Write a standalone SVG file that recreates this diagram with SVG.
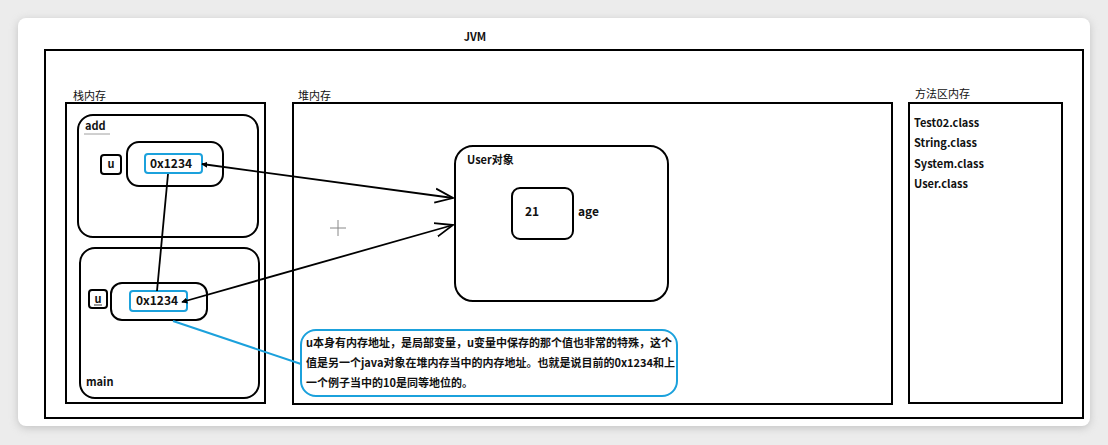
<svg xmlns="http://www.w3.org/2000/svg" width="1108" height="445" viewBox="0 0 1108 445">
<style>
.bx{fill:none;stroke:#000;stroke-width:2}
.bl{fill:none;stroke:#1ba1dc;stroke-width:2}
.t{font-family:"Noto Sans CJK SC","Liberation Sans",sans-serif;font-weight:bold;font-size:11px;fill:#111}
.v{font-size:12px}
.tn{font-family:"Noto Sans CJK SC",sans-serif;font-size:11px;fill:#111}
.ln{fill:none;stroke:#000;stroke-width:1.8}
</style>
<defs>
<filter id="sh" x="-5%" y="-5%" width="110%" height="110%"><feGaussianBlur stdDeviation="4"/></filter>
<marker id="open" viewBox="0 0 20 20" refX="18" refY="10" markerWidth="20" markerHeight="20" markerUnits="userSpaceOnUse" orient="auto"><path d="M0,3 L18,10 L0,17" fill="none" stroke="#000" stroke-width="1.8"/></marker>
<marker id="dot" viewBox="0 0 8 8" refX="7" refY="4" markerWidth="6" markerHeight="6" markerUnits="userSpaceOnUse" orient="auto-start-reverse"><path d="M0,0 L8,4 L0,8 Z" fill="#000"/></marker>
</defs>
<rect x="0" y="0" width="1108" height="445" fill="#ececec"/>
<rect x="18" y="20" width="1072" height="408" rx="8" fill="#999" opacity="0.5" filter="url(#sh)"/>
<rect x="18" y="18" width="1072" height="408" rx="8" fill="#fff"/>

<g id="jvm">
<text class="t" x="475" y="41" text-anchor="middle" font-family="Liberation Sans">JVM</text>
<rect class="bx" x="45" y="50" width="1038" height="368"/>
</g>

<g id="stack">
<text class="tn" x="73" y="100">栈内存</text>
<rect class="bx" x="66" y="103" width="199" height="300"/>
</g>

<g id="add">
<rect class="bx" x="78" y="115" width="180" height="122" rx="15"/>
<text class="t" x="85" y="130">add</text>
<line x1="84" y1="134" x2="110" y2="134" stroke="#888" stroke-width="0.8"/>
</g>
<g id="add-u">
<rect class="bx" x="101" y="155" width="20" height="19" rx="3"/>
<text class="t" x="111" y="168" text-anchor="middle">u</text>
</g>
<g id="add-ref">
<rect class="bx" x="127" y="142" width="96" height="44" rx="12"/>
<rect class="bl" x="145" y="154" width="57" height="19" rx="3"/>
<text class="t v" x="171" y="168" text-anchor="middle">0x1234</text>
</g>

<g id="main">
<rect class="bx" x="80" y="248" width="179" height="150" rx="15"/>
<text class="t" x="86" y="386">main</text>
</g>
<g id="main-u">
<rect class="bx" x="89" y="290" width="18" height="18" rx="3"/>
<text class="t" x="98" y="303" text-anchor="middle">u</text>
<line x1="94" y1="305" x2="102" y2="305" stroke="#000" stroke-width="0.8"/>
</g>
<g id="main-ref">
<rect class="bx" x="111" y="283" width="96" height="37" rx="11"/>
<rect class="bl" x="130" y="291" width="57" height="20" rx="3"/>
<text class="t v" x="157" y="305" text-anchor="middle">0x1234</text>
</g>

<g id="heap">
<text class="tn" x="298" y="100">堆内存</text>
<rect class="bx" x="293" y="103" width="599" height="301"/>
</g>
<g id="user">
<rect class="bx" x="455" y="146" width="213" height="155" rx="18"/>
<text class="t" x="467" y="164">User对象</text>
</g>
<g id="age">
<rect class="bx" x="512" y="188" width="61" height="51" rx="8"/>
<text class="t v" x="525" y="216">21</text>
<text class="t v" x="578" y="216">age</text>
</g>

<g id="cursor" stroke="#888" stroke-width="1">
<line x1="330" y1="228" x2="346" y2="228"/>
<line x1="338" y1="220" x2="338" y2="236"/>
</g>

<g id="note">
<rect x="301" y="330" width="376" height="66" rx="15" fill="#fff" stroke="#1ba1dc" stroke-width="2"/>
<text class="t" x="306" y="347">u本身有内存地址，是局部变量，u变量中保存的那个值也非常的特殊，这个</text>
<text class="t" x="306" y="367">值是另一个java对象在堆内存当中的内存地址。也就是说目前的0x1234和上</text>
<text class="t" x="306" y="387">一个例子当中的10是同等地位的。</text>
</g>

<g id="method">
<text class="tn" x="915" y="98">方法区内存</text>
<rect class="bx" x="909" y="103" width="153" height="300"/>
<text class="t" x="914" y="127">Test02.class</text>
<text class="t" x="914" y="147">String.class</text>
<text class="t" x="914" y="168">System.class</text>
<text class="t" x="914" y="188">User.class</text>
</g>

<g id="connectors">
<line class="ln" x1="168" y1="174" x2="157" y2="291"/>
<line class="ln" x1="202" y1="164" x2="453" y2="198" marker-start="url(#dot)" marker-end="url(#open)"/>
<line class="ln" x1="182" y1="302" x2="453" y2="225" marker-start="url(#dot)" marker-end="url(#open)"/>
<line x1="173" y1="321" x2="301" y2="364" stroke="#1ba1dc" stroke-width="2"/>
</g>
</svg>
